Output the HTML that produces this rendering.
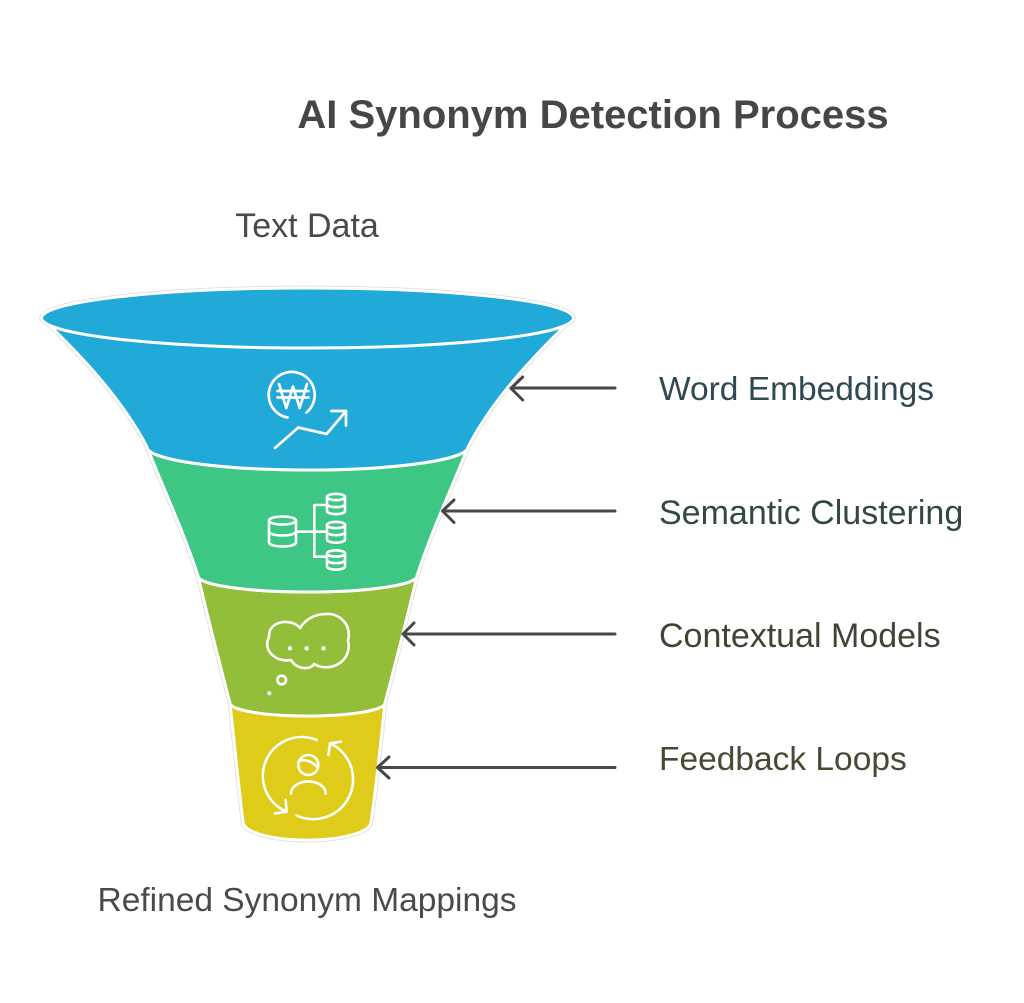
<!DOCTYPE html>
<html>
<head>
<meta charset="utf-8">
<style>
html,body{margin:0;padding:0;background:#fff;}
svg{display:block;}
text{font-family:"Liberation Sans",Arial,sans-serif;}
</style>
</head>
<body>
<svg width="1024" height="1003" viewBox="0 0 1024 1003" xmlns="http://www.w3.org/2000/svg">
  <rect width="1024" height="1003" fill="#fff"/>

  <!-- Title -->
  <text x="593" y="128" text-anchor="middle" font-size="40" font-weight="bold" fill="#464646">AI Synonym Detection Process</text>
  <text x="307" y="237" text-anchor="middle" font-size="34" fill="#4a4a4a">Text Data</text>
  <text x="307" y="911" text-anchor="middle" font-size="33.5" fill="#4a4a4a">Refined Synonym Mappings</text>

  <!-- gray outline pass -->
  <g fill="none" stroke="#dadada" stroke-width="4.5" stroke-linejoin="round">
    <path d="M 230 703 C 234 740, 239 790, 243 822 A 63.5 18 0 0 0 371 822 C 376 790, 381 740, 385 703 Z"/>
    <path d="M 198 576 C 206 610, 220 665, 230 703 A 77.5 13 0 0 0 385 703 C 395 665, 409 610, 417 576 Z"/>
    <path d="M 147 447 C 162 485, 185 535, 198 576 A 109.5 16 0 0 0 417 576 C 430 535, 453 485, 468 447 Z"/>
    <path d="M 42 318 C 75 350, 120 395, 147 447 A 160.5 23 0 0 0 468 447 C 495 395, 540 350, 573 318 Z"/>
    <ellipse cx="307.5" cy="318" rx="266" ry="30"/>
  </g>

  <!-- segments -->
  <g stroke="#fff" stroke-width="3" stroke-linejoin="round">
    <path fill="#dfcb19" d="M 230 703 C 234 740, 239 790, 243 822 A 63.5 18 0 0 0 371 822 C 376 790, 381 740, 385 703 A 77.5 13 0 0 1 230 703 Z"/>
    <path fill="#93be3a" d="M 198 576 C 206 610, 220 665, 230 703 A 77.5 13 0 0 0 385 703 C 395 665, 409 610, 417 576 A 109.5 16 0 0 1 198 576 Z"/>
    <path fill="#3ec685" d="M 147 447 C 162 485, 185 535, 198 576 A 109.5 16 0 0 0 417 576 C 430 535, 453 485, 468 447 A 160.5 23 0 0 1 147 447 Z"/>
    <path fill="#21a9d8" d="M 42 318 C 75 350, 120 395, 147 447 A 160.5 23 0 0 0 468 447 C 495 395, 540 350, 573 318 Z"/>
    <ellipse cx="307.5" cy="318" rx="266" ry="30" fill="#21a9d8"/>
  </g>

  <!-- Icon 1: won coin + trend -->
  <g fill="none" stroke="#fff" stroke-width="2.7" stroke-linecap="round" stroke-linejoin="round">
    <path d="M 287.5 417.5 A 23 23 0 1 1 306.5 412.5"/>
    <path d="M 279 384 L 286.3 408 L 293 386.5 L 299.7 408 L 307 384"/>
    <path d="M 277.5 391 L 308.5 391 M 277.5 397.5 L 308.5 397.5"/>
    <path d="M 275 448 L 298.3 427.5 L 326.7 434 L 346 411"/>
    <path d="M 331.5 411 L 346 411 L 346 425.5"/>
  </g>

  <!-- Icon 2: databases -->
  <g fill="none" stroke="#fff" stroke-width="2.6" stroke-linecap="round" stroke-linejoin="round">
    <ellipse cx="282.5" cy="520.5" rx="13.5" ry="4"/>
    <path d="M 269 520.5 L 269 542.5 A 13.5 4 0 0 0 296 542.5 L 296 520.5"/>
    <path d="M 269 531.5 A 13.5 4 0 0 0 296 531.5"/>
    <path d="M 296.7 531.7 L 326.7 531.7"/>
    <path d="M 325 505 L 314.3 505 L 314.3 556.7 L 325 556.7"/>
    <ellipse cx="336" cy="497" rx="9" ry="3.2"/>
    <path d="M 327 497 L 327 511 A 9 3.2 0 0 0 345 511 L 345 497"/>
    <path d="M 327 504 A 9 3.2 0 0 0 345 504"/>
    <ellipse cx="336" cy="525" rx="9" ry="3.2"/>
    <path d="M 327 525 L 327 539.5 A 9 3.2 0 0 0 345 539.5 L 345 525"/>
    <path d="M 327 532 A 9 3.2 0 0 0 345 532"/>
    <ellipse cx="336" cy="553.5" rx="9" ry="3.2"/>
    <path d="M 327 553.5 L 327 566.5 A 9 3.2 0 0 0 345 566.5 L 345 553.5"/>
    <path d="M 327 560 A 9 3.2 0 0 0 345 560"/>
  </g>

  <!-- Icon 3: thought cloud -->
  <g fill="none" stroke="#fff" stroke-width="2.6" stroke-linecap="round" stroke-linejoin="round">
    <path d="M 300 628 C 292 618, 268 620, 269 637 C 262 650, 276 663, 291 660 C 297 670, 311 670, 314 664 C 331 674, 353 660, 348 641 C 352 625, 340 613, 326 614 C 314 614, 305 620, 300 628 Z"/>
    <circle cx="281.7" cy="680" r="4.3"/>
  </g>
  <g fill="#fff">
    <circle cx="290" cy="648.3" r="2.2"/>
    <circle cx="306.7" cy="648.3" r="2.2"/>
    <circle cx="323.5" cy="648.3" r="2.2"/>
    <circle cx="269.3" cy="693.3" r="2"/>
  </g>

  <!-- Icon 4: feedback loop person -->
  <g fill="none" stroke="#fff" stroke-width="2.6" stroke-linecap="round" stroke-linejoin="round">
    <path d="M 316.7 740 A 37.5 37.5 0 0 0 286.7 811.7"/>
    <path d="M 275 813.5 L 286.7 811.7 L 285.7 800"/>
    <path d="M 296.7 815.5 A 37.5 37.5 0 0 0 330 743.3"/>
    <path d="M 341 741.7 L 330 743.3 L 328.5 755"/>
    <circle cx="308.3" cy="765" r="10"/>
    <path d="M 299.5 761 Q 308 758 317.5 767"/>
    <path d="M 291 793.5 A 17.3 12 0 0 1 325.7 793.5"/>
  </g>

  <!-- Arrows -->
  <g fill="none" stroke="#474747" stroke-width="3" stroke-linecap="round" stroke-linejoin="round">
    <path d="M 615 388 L 511 388 M 522.7 377 L 511 388.3 L 522.7 400"/>
    <path d="M 615 511 L 443 511 M 454 500 L 442.5 511 L 454 522.5"/>
    <path d="M 615 634 L 404 634 M 414 623 L 403 634 L 414 645"/>
    <path d="M 615 767.5 L 378 767.5 M 389 757 L 377.5 767.5 L 389 778"/>
  </g>

  <!-- Labels -->
  <text x="659" y="400" font-size="33.5" fill="#2f4852">Word Embeddings</text>
  <text x="659" y="524" font-size="34" fill="#33483f">Semantic Clustering</text>
  <text x="659" y="647" font-size="34" fill="#3e4534">Contextual Models</text>
  <text x="659" y="770" font-size="33.5" fill="#4a4832">Feedback Loops</text>
</svg>
</body>
</html>
